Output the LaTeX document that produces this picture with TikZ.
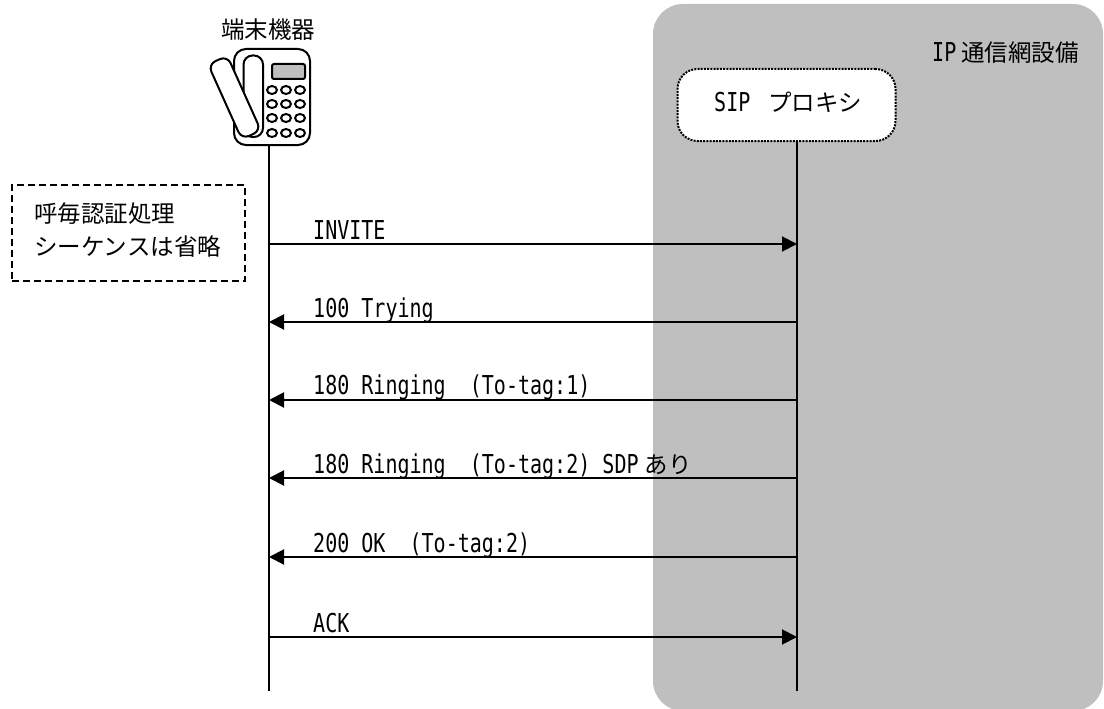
\documentclass[tikz,border=0pt]{standalone}
\usepackage{fontspec}
\setmainfont{Noto Sans CJK JP}
\newfontfamily\latinmono[FakeStretch=0.77]{DejaVu Sans Mono}
\usetikzlibrary{arrows.meta}
\tikzset{
  lifeline/.style={draw=black,line width=1.8pt},
  msg/.style={draw=black,line width=2pt,-{Triangle[length=15pt,width=15pt]}},
  lbl/.style={anchor=base west,inner sep=0pt,font=\fontsize{23.5}{28}\selectfont},
  phone/.style={draw=black,line width=2pt,fill=white,line join=round}
}
\newcommand{\lm}[1]{{\latinmono\fontsize{26}{28}\selectfont #1}}
\begin{document}
\begin{tikzpicture}[x=1pt,y=-1pt]
\useasboundingbox (0,0) rectangle (1104,709);
\fill[fill=black!25,rounded corners=30pt] (653,4) rectangle (1103,711);
\node[lbl] (net) at (932,62) {\lm{IP}\hspace{5pt}通信網設備};
\node[draw=black,dash pattern=on 2pt off 1.2pt,line width=2pt,fill=white,rounded corners=20pt,minimum width=218pt,minimum height=72pt,inner sep=0pt] (sip) at (786.5,105) {};
\node[lbl] (siplbl) at (714,112) {\lm{SIP\ }\hspace{6pt}プロキシ};
\node[inner sep=0pt,font=\fontsize{23.5}{28}\selectfont] (dev) at (268,30) {端末機器};
% phone
\draw[phone,rounded corners=12pt] (234,49) rectangle (310,145);
\draw[phone,rounded corners=9pt] (243.5,55.5) rectangle (263,137);
\draw[phone,rounded corners=8pt] (208.1,64.4) -- (227.3,55.8) -- (260.9,130.6) -- (241.7,139.2) -- cycle;
\draw[draw=black,line width=2pt,fill=black!25,rounded corners=2pt] (272,64) rectangle (305,79);
\foreach \y in {90,104,118,133}{
  \foreach \x in {272,286,300}{
    \draw[black,line width=2pt,fill=white] (\x,\y) ellipse (5pt and 4pt);
  }
}
\coordinate (a0) at (269,145);
\coordinate (a1) at (269,691);
\coordinate (b1) at (797,691);
\draw[lifeline] (a0) -- (a1);
\draw[lifeline] (sip.south -| b1) -- (b1);
% note
\node[draw=black,dash pattern=on 7pt off 4pt,line width=1.5pt,minimum width=233pt,minimum height=96pt,inner sep=0pt] (note) at (128.5,233) {};
\node[lbl] (n1) at (34,222) {呼毎認証処理};
\node[lbl] (n2) at (34,255) {シーケンスは省略};
% messages
\coordinate (a2) at (269,244); \coordinate (b2) at (797,244);
\coordinate (a3) at (269,322); \coordinate (b3) at (797,322);
\coordinate (a4) at (269,400); \coordinate (b4) at (797,400);
\coordinate (a5) at (269,478); \coordinate (b5) at (797,478);
\coordinate (a6) at (269,557); \coordinate (b6) at (797,557);
\coordinate (a7) at (269,637); \coordinate (b7) at (797,637);
\draw[msg] (a2) -- (b2);
\draw[msg] (b3) -- (a3);
\draw[msg] (b4) -- (a4);
\draw[msg] (b5) -- (a5);
\draw[msg] (b6) -- (a6);
\draw[msg] (a7) -- (b7);
\node[lbl] (m2) at (313,239) {\lm{INVITE}};
\node[lbl] (m3) at (313,317) {\lm{100 Trying}};
\node[lbl] (m4) at (313,394) {\lm{180 Ringing\ \ (To-tag:1)}};
\node[lbl] (m5) at (313,473) {\lm{180 Ringing\ \ (To-tag:2) SDP}\hspace{6pt}あり};
\node[lbl] (m6) at (313,552) {\lm{200 OK\ \ (To-tag:2)}};
\node[lbl] (m7) at (313,632) {\lm{ACK}};
\end{tikzpicture}
\end{document}
